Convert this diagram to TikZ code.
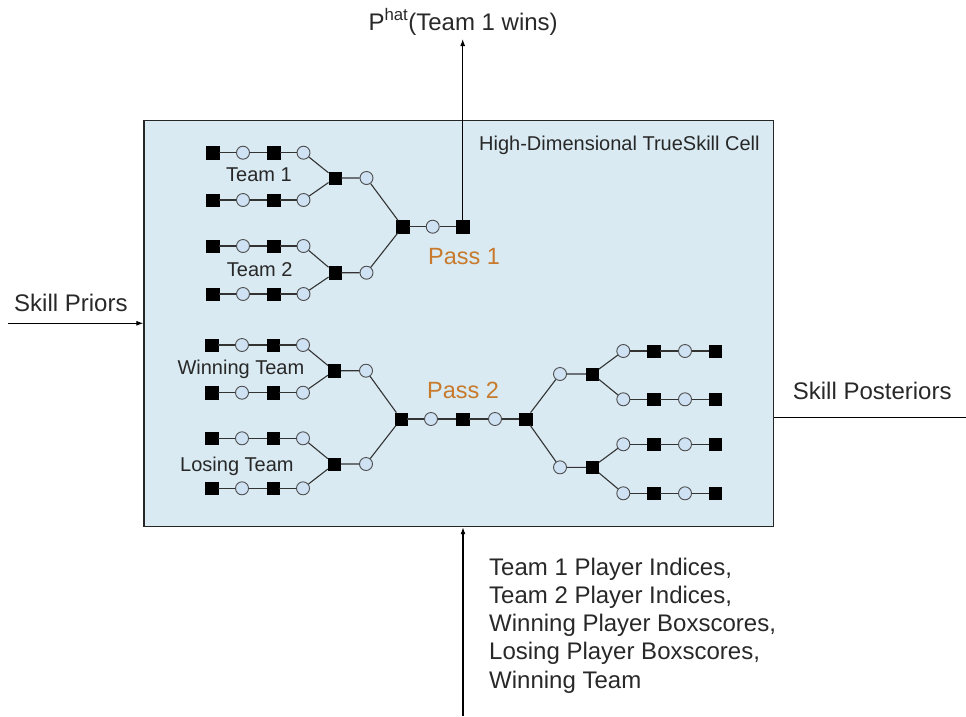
\documentclass[tikz,border=0pt]{standalone}
\usepackage{fontspec}
\setmainfont{Liberation Sans}
\usetikzlibrary{arrows.meta}

\definecolor{cellblue}{RGB}{217,234,242}
\definecolor{varblue}{RGB}{207,226,243}
\definecolor{passorange}{RGB}{200,122,45}
\definecolor{textgrey}{RGB}{40,40,40}

\begin{document}
\begin{tikzpicture}[x=1pt, y=-1pt,
  fac/.style={fill=black, draw=black, minimum size=12.5pt, inner sep=0pt},
  var/.style={circle, fill=varblue, draw=black!70, line width=0.9pt, minimum size=13pt, inner sep=0pt},
  edge/.style={draw=black!80, line width=1.1pt},
  flow/.style={line width=1.1pt, -{Latex[length=7pt,width=5pt]}},
  big/.style={font=\fontsize{24}{28.25}\selectfont, text=textgrey, inner sep=0pt},
  small/.style={font=\fontsize{20}{24}\selectfont, text=textgrey, inner sep=0pt},
  pass/.style={font=\fontsize{23.5}{28}\selectfont, text=passorange, inner sep=0pt}]

\useasboundingbox (0,0) rectangle (966,716);

\node [draw=black!85, line width=1.2pt, fill=cellblue, minimum width=629.5pt, minimum height=406pt] (cell) at (458.75,323.6) {};

% pass 1
\foreach \r/\y in {1/152.7,2/200,3/246,4/294}{
  \node [fac] (a\r1) at (212.5,\y) {};
  \node [var] (a\r2) at (243,\y) {};
  \node [fac] (a\r3) at (273.5,\y) {};
  \node [var] (a\r4) at (303.5,\y) {};
  \draw [edge] (a\r1) -- (a\r2) -- (a\r3) -- (a\r4);
}

\node [fac] (t1) at (335,178) {};
\node [var] (t1v) at (366.5,178) {};
\node [fac] (t2) at (335,272.7) {};
\node [var] (t2v) at (366.5,272.7) {};
\node [fac] (m1) at (402.7,226.7) {};
\node [var] (m1v) at (432.7,226.7) {};
\node [fac] (out) at (462.7,226.7) {};

\draw [edge] (a14) -- (t1) (a24) -- (t1) (t1) -- (t1v) -- (m1);
\draw [edge] (a34) -- (t2) (a44) -- (t2) (t2) -- (t2v) -- (m1);
\draw [edge] (m1) -- (m1v) -- (out);

% pass 2
\foreach \r/\y in {1/345,2/392.7,3/438.3,4/488.3}{
  \node [fac] (b\r1) at (211.5,\y) {};
  \node [var] (b\r2) at (242,\y) {};
  \node [fac] (b\r3) at (273,\y) {};
  \node [var] (b\r4) at (303,\y) {};
  \draw [edge] (b\r1) -- (b\r2) -- (b\r3) -- (b\r4);
}

\node [fac] (w) at (334.3,370.7) {};
\node [var] (wv) at (366,370.7) {};
\node [fac] (l) at (334.3,464) {};
\node [var] (lv) at (366,464) {};
\node [fac] (m2) at (401,419) {};
\node [var] (m2a) at (431,419) {};
\node [fac] (m2b) at (462.7,419) {};
\node [var] (m2c) at (495,419) {};
\node [fac] (m2d) at (525.7,419) {};
\node [var] (r1v) at (560,374) {};
\node [var] (r2v) at (560,467.3) {};
\node [fac] (r1) at (592.3,374) {};
\node [fac] (r2) at (592.3,467.3) {};

\foreach \r/\y in {1/351,2/399.3,3/444.3,4/493.3}{
  \node [var] (c\r1) at (623.3,\y) {};
  \node [fac] (c\r2) at (653.5,\y) {};
  \node [var] (c\r3) at (685,\y) {};
  \node [fac] (c\r4) at (715,\y) {};
  \draw [edge] (c\r1) -- (c\r2) -- (c\r3) -- (c\r4);
}

\draw [edge] (b14) -- (w) (b24) -- (w) (w) -- (wv) -- (m2);
\draw [edge] (b34) -- (l) (b44) -- (l) (l) -- (lv) -- (m2);
\draw [edge] (m2) -- (m2a) -- (m2b) -- (m2c) -- (m2d);
\draw [edge] (m2d) -- (r1v) -- (r1) (m2d) -- (r2v) -- (r2);
\draw [edge] (r1) -- (c11) (r1) -- (c21) (r2) -- (c31) (r2) -- (c41);

% labels
\node [small, anchor=base west] (team1) at (226,181.7) {Team 1};
\node [small, anchor=base west] (team2) at (226.7,276) {Team 2};
\node [small, anchor=base west] (winteam) at (177.3,374) {Winning Team};
\node [small, anchor=base west] (loseteam) at (180,471) {Losing Team};
\node [pass, anchor=base west] (pass1) at (428,264) {Pass 1};
\node [pass, anchor=base west] (pass2) at (427,398.3) {Pass 2};
\node [small, anchor=base west] (celltitle) at (479,150) {High-Dimensional TrueSkill Cell};

\node [big, anchor=base west] (win) at (368.3,30) {P\textsuperscript{hat}(Team 1 wins)};
\node [big, anchor=base west] (prior) at (14,311.7) {Skill Priors};
\node [big, anchor=base west] (post) at (792.7,399.3) {Skill Posteriors};
\node [big, anchor=north west, align=left] (inputs) at (489,557.5)
  {Team 1 Player Indices,\\Team 2 Player Indices,\\Winning Player Boxscores,\\Losing Player Boxscores,\\Winning Team};

% inputs and outputs of the cell
\coordinate (phat) at (462.7,39);
\draw [flow] (out) -- (phat);
\coordinate (priorin) at (8,323.3);
\draw [flow] (priorin) -- (priorin -| cell.west);
\coordinate (postout) at (966,417.7);
\draw [line width=1.1pt] (cell.east |- postout) -- (postout);
\coordinate (datain) at (463,716);
\draw [flow] (datain) -- (datain |- cell.south);

\end{tikzpicture}
\end{document}
